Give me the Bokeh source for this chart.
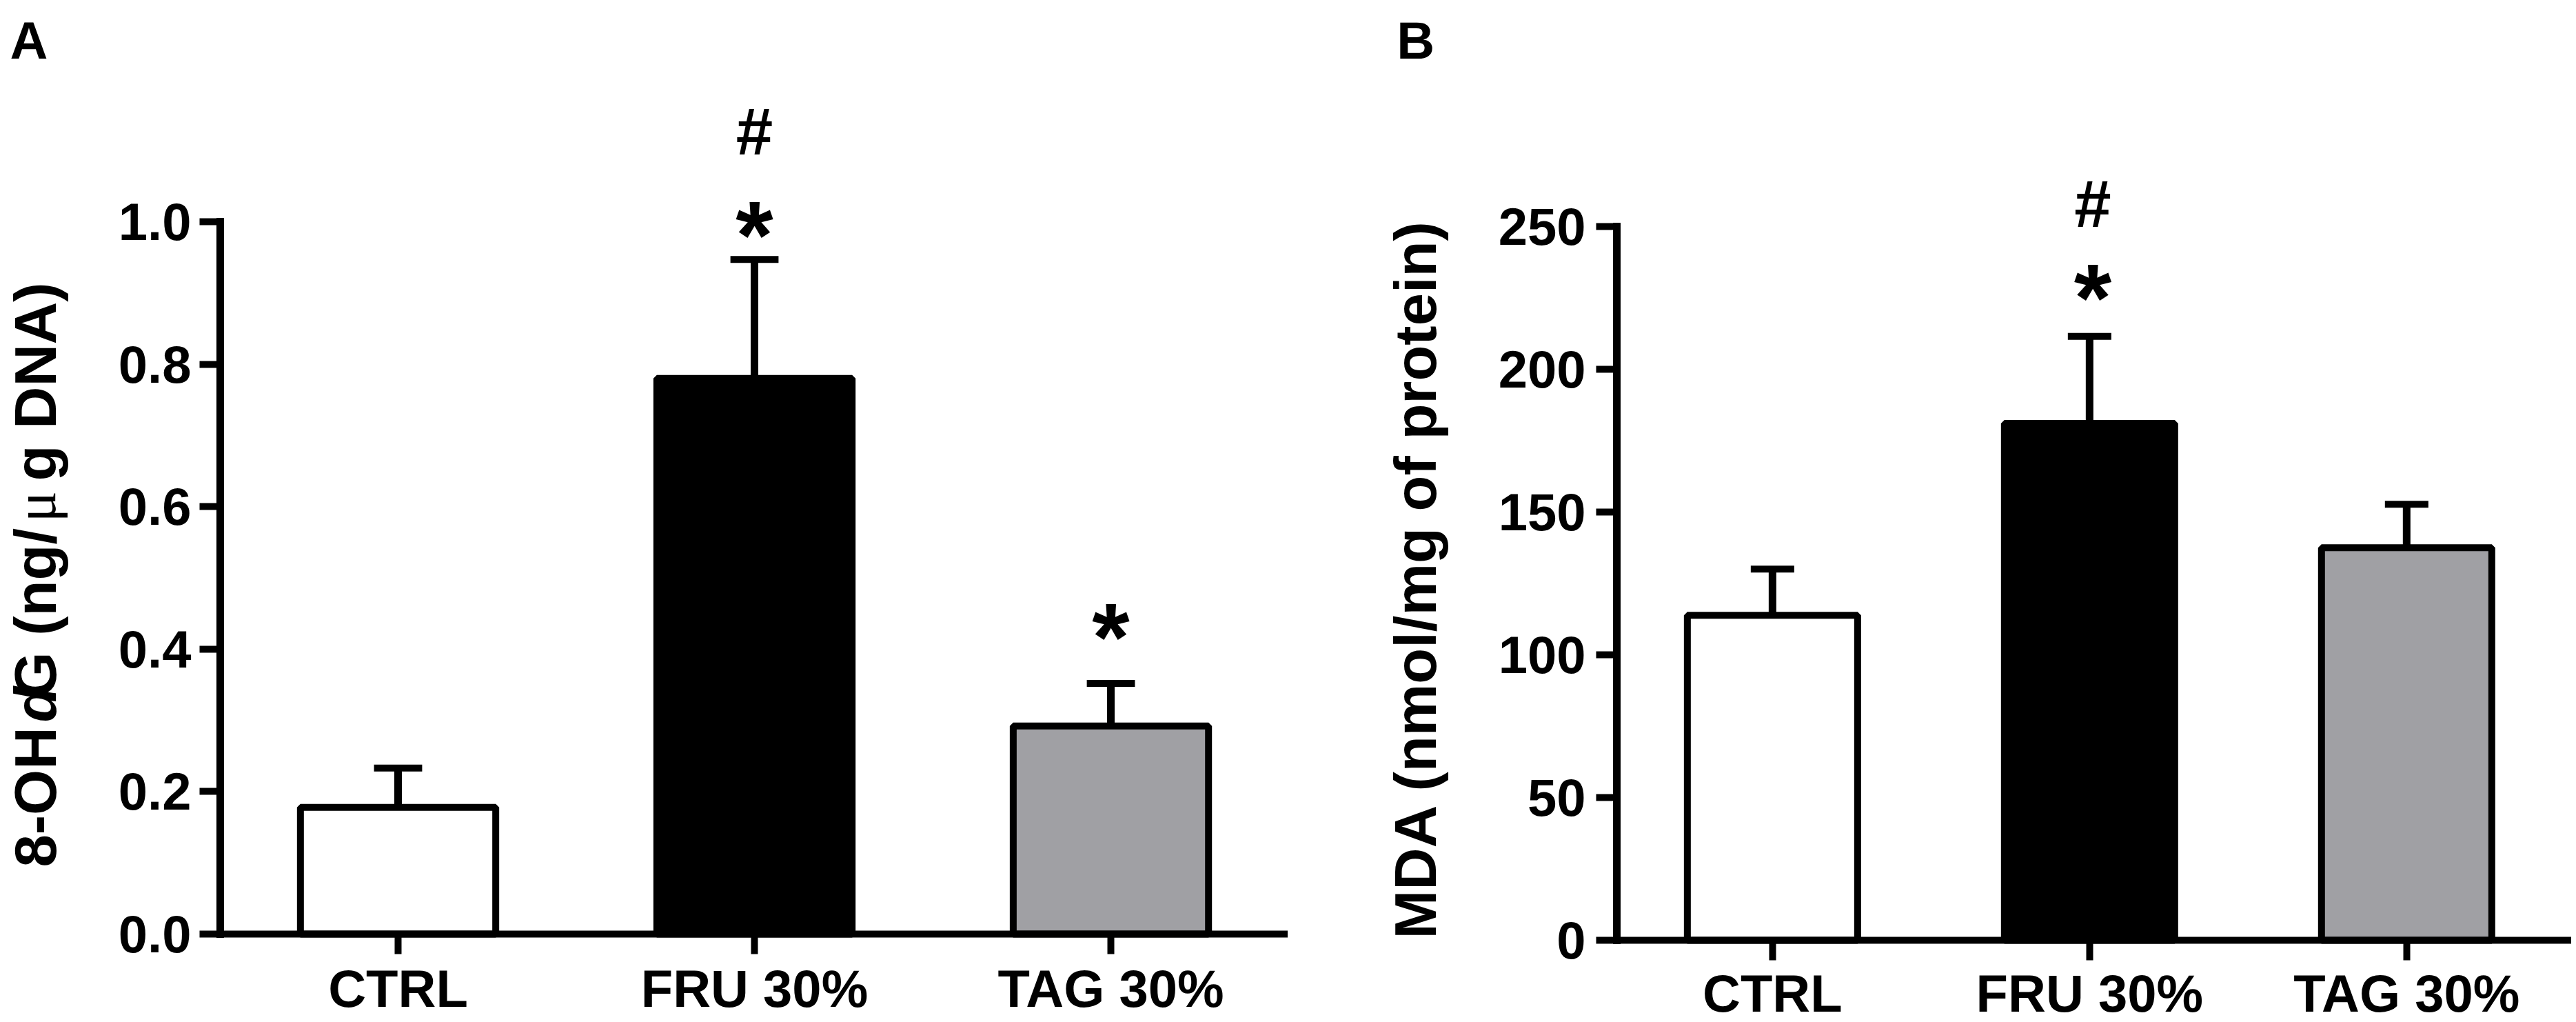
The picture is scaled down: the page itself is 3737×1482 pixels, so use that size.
from math import pi
from bokeh.core.properties import value
from bokeh.embed import file_html
from bokeh.layouts import row
from bokeh.models import FixedTicker, Range1d
from bokeh.plotting import figure
from bokeh.resources import INLINE

groups = ["CTRL", "FRU 30%", "TAG 30%"]
positions = [0, 1, 2]
fills = ["white", "black", "#a0a0a4"]

# panel A, 8-OHdG
ohdg_mean = [0.178, 0.78, 0.292]
ohdg_upper = [0.233, 0.947, 0.352]
ohdg_ticks = [0.0, 0.2, 0.4, 0.6, 0.8, 1.0]
ohdg_labels = ["0.0", "0.2", "0.4", "0.6", "0.8", "1.0"]
ohdg_hash_x = [1]
ohdg_hash_y = [1.127]
ohdg_star_x = [1, 2]
ohdg_star_y = [0.982, 0.417]

# panel B, MDA
mda_mean = [113.8, 181, 137.5]
mda_upper = [130, 211.5, 152.7]
mda_ticks = [0, 50, 100, 150, 200, 250]
mda_labels = ["0", "50", "100", "150", "200", "250"]
mda_hash_x = [1.01]
mda_hash_y = [258]
mda_star_x = [1.01]
mda_star_y = [225]

FONT = "Liberation Sans"
FIG_H = 1482


def bar_panel(width, x_range, y_range, y_axis_x, mean, upper, ticks, labels,
              bar_w, cap_w, hash_x, hash_y, star_x, star_y, label_standoff, x_standoff):
    # frame fills the figure, the axes sit inside it at fixed locations
    p = figure(width=width, height=FIG_H, output_backend="svg", toolbar_location=None,
               x_range=Range1d(*x_range), y_range=Range1d(*y_range),
               min_border_left=0, min_border_right=0, min_border_top=0, min_border_bottom=0)
    p.outline_line_color = None
    p.grid.visible = False
    p.background_fill_color = "white"

    p.vbar(x=positions, top=mean, bottom=0, width=bar_w, fill_color=fills,
           line_color="black", line_width=10)
    p.segment(x0=positions, x1=positions, y0=mean, y1=upper, line_color="black", line_width=11)
    p.segment(x0=[x - cap_w / 2 for x in positions], x1=[x + cap_w / 2 for x in positions],
              y0=upper, y1=upper, line_color="black", line_width=10)
    p.text(x=hash_x, y=hash_y, text=["#"] * len(hash_x), text_font=value(FONT), text_font_size="96px",
           text_font_style="bold", text_align="center", text_baseline="middle")
    p.text(x=star_x, y=star_y, text=["*"] * len(star_x), text_font=value(FONT), text_font_size="140px",
           text_font_style="bold", text_align="center", text_baseline="middle")

    xa = p.xaxis[0]
    xa.fixed_location = 0
    xa.bounds = (y_axis_x, x_range[1])
    xa.ticker = FixedTicker(ticks=positions)
    xa.major_label_overrides = dict(zip(positions, groups))
    xa.major_label_text_font = FONT
    xa.major_label_text_font_size = "76px"
    xa.major_label_text_font_style = "bold"
    xa.major_label_text_color = "black"
    xa.major_label_standoff = x_standoff
    xa.minor_tick_line_color = None
    xa.major_tick_in = 0
    xa.major_tick_out = 29
    xa.major_tick_line_width = 10
    xa.major_tick_line_color = "black"
    xa.axis_line_width = 10
    xa.axis_line_color = "black"

    ya = p.yaxis[0]
    ya.fixed_location = y_axis_x
    ya.bounds = (ticks[0], ticks[-1])
    ya.ticker = FixedTicker(ticks=ticks)
    ya.major_label_overrides = dict(zip(ticks, labels))
    ya.major_label_text_font = FONT
    ya.major_label_text_font_size = "76px"
    ya.major_label_text_font_style = "bold"
    ya.major_label_text_color = "black"
    ya.major_label_standoff = label_standoff
    ya.minor_tick_line_color = None
    ya.major_tick_in = 0
    ya.major_tick_out = 30
    ya.major_tick_line_width = 10
    ya.major_tick_line_color = "black"
    ya.axis_line_width = 11
    ya.axis_line_color = "black"
    ya.axis_line_cap = "square"
    return p


def note(p, x, y, text, size="85px", font=FONT, style="bold", angle=0.0):
    p.text(x=[x], y=[y], text=[text], angle=angle, text_font=value(font), text_font_size=size,
           text_font_style=style, text_color="black", text_align="left", text_baseline="alphabetic")


a = bar_panel(1868, (-1.116, 2.497), (-0.1239, 1.3107), -0.499, ohdg_mean, ohdg_upper,
              ohdg_ticks, ohdg_labels, 0.548, 0.135, ohdg_hash_x, ohdg_hash_y, ohdg_star_x, ohdg_star_y, 12, 7)


def a_note(px, py, text, **kw):
    # px, py are page pixels of the text origin
    note(a, (px - 577) / 517, (1354 - py) / 1033, text, **kw)


# y title of A is in pieces: italic d sits into the G, and the mu is a serif one
a_note(51, 1257, "8-OH", angle=pi / 2)
a_note(51, 1047, "d", style="bold italic", angle=pi / 2)
a_note(51, 1011, "G (ng/", angle=pi / 2)
a_note(51, 757, "\u03bc", font="Liberation Serif", style="normal", angle=pi / 2)
a_note(51, 697, "g DNA)", angle=pi / 2)
a_note(14, 58, "A", size="76px")

b = bar_panel(1862, (-1.528, 2.52), (-28.74, 329.2), -0.491, mda_mean, mda_upper,
              mda_ticks, mda_labels, 0.537, 0.137, mda_hash_x, mda_hash_y, mda_star_x, mda_star_y, 15, 5)


def b_note(px, py, text, **kw):
    note(b, (px - 2571) / 460, (1363 - py) / 4.14, text, **kw)


b_note(2053, 1361, "MDA (nmol/mg of protein)", angle=pi / 2)
b_note(2026, 58, "B", size="76px")

page = row(a, b, spacing=0)
open("out.html", "w").write(file_html(page, INLINE))
